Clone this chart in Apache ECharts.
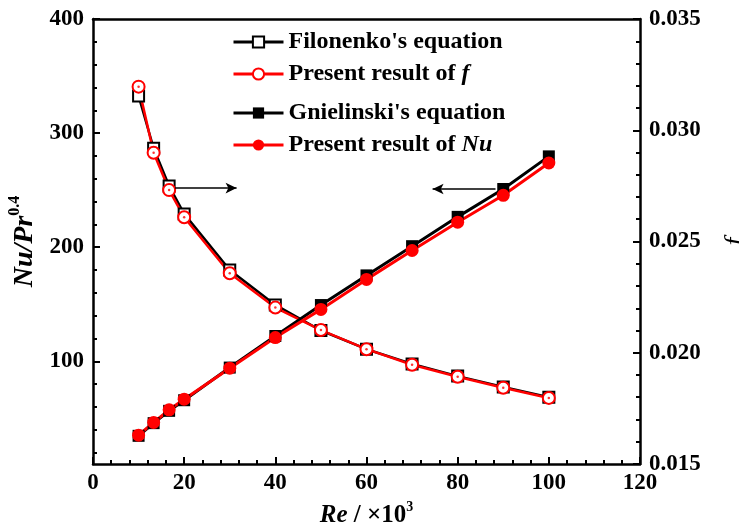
<!DOCTYPE html>
<html>
<head>
<meta charset="utf-8">
<script src="https://cdn.jsdelivr.net/npm/echarts@6/dist/echarts.min.js"></script>
<style>html,body{margin:0;padding:0;background:#fff;}#c{width:739px;height:530px;}</style>
</head>
<body>
<div id="c"></div>
<script>
const re = [10, 13.3, 16.7, 20, 30, 40, 50, 60, 70, 80, 90, 100];
const fFilonenko = [0.03154, 0.02919, 0.02749, 0.02624, 0.02372, 0.02215, 0.02100, 0.02016, 0.01950, 0.01895, 0.01846, 0.01800];
const fPresent = [0.03196, 0.02899, 0.02731, 0.02609, 0.02357, 0.02203, 0.02102, 0.02016, 0.01946, 0.01892, 0.01843, 0.01797];
const nuGnielinski = [34.7, 45.8, 56.6, 65.9, 94.5, 122.2, 149.3, 175.3, 200.9, 226.6, 251, 279.6];
const nuPresent = [35.3, 46.4, 57.5, 66.8, 94, 120.8, 145.5, 171.8, 197.1, 221.9, 245.5, 273.8];
const leftTicks = [100, 200, 300, 400];
const leftMinorTicks = [20, 40, 60, 80, 120, 140, 160, 180, 220, 240, 260, 280, 320, 340, 360, 380];
const seriesNames = ["Filonenko's equation", "Present result of f", "Gnielinski's equation", "Present result of Nu"];

const FONT = 'Liberation Serif';
const pair = (xs, ys) => xs.map((x, i) => [x, ys[i]]);
const labelStyle = { color: '#000', fontFamily: FONT, fontWeight: 'bold', fontSize: 23 };

const chart = echarts.init(document.getElementById('c'), null, { renderer: 'canvas' });
const legendRich = {
  n: { fontFamily: FONT, fontWeight: 'bold', fontSize: 24, color: '#000' },
  i: { fontFamily: FONT, fontWeight: 'bold', fontStyle: 'italic', fontSize: 24, color: '#000' }
};
const legendFmt = name => {
  if (name === seriesNames[1]) return '{n|Present result of }{i|f}';
  if (name === seriesNames[3]) return '{n|Present result of }{i|Nu}';
  return '{n|' + name + '}';
};
const legendBase = {
  orient: 'vertical', left: 227, itemWidth: 50, itemHeight: 14, itemGap: 8,
  textStyle: { fontFamily: FONT, fontWeight: 'bold', fontSize: 24, color: '#000', lineHeight: 24, rich: legendRich },
  lineStyle: { width: 3 },
  formatter: legendFmt, selectedMode: false
};

chart.setOption({
  animation: false,
  backgroundColor: '#fff',
  grid: { left: 93, right: 99, top: 19, bottom: 66, outerBoundsMode: 'none', containLabel: false },
  legend: [
    Object.assign({}, legendBase, { top: 25, data: [seriesNames[0], seriesNames[1]] }),
    Object.assign({}, legendBase, { top: 96, data: [seriesNames[2], seriesNames[3]] })
  ],
  xAxis: [{
    type: 'value', min: 0, max: 120, interval: 20, position: 'bottom',
    axisLine: { onZero: false, lineStyle: { color: '#000', width: 2.5 } },
    axisTick: { inside: true, length: 7, lineStyle: { color: '#000', width: 2 } },
    minorTick: { show: true, splitNumber: 5, length: 4, lineStyle: { color: '#000', width: 2 } },
    axisLabel: Object.assign({ margin: 8 }, labelStyle),
    splitLine: { show: false },
    name: '{i|Re}{n| / ×10}{s|3}', nameLocation: 'middle', nameGap: 36,
    nameTextStyle: { rich: {
      i: { fontFamily: FONT, fontWeight: 'bold', fontStyle: 'italic', fontSize: 25, color: '#000', verticalAlign: 'bottom', lineHeight: 28 },
      n: { fontFamily: FONT, fontWeight: 'bold', fontSize: 25, color: '#000', verticalAlign: 'bottom', lineHeight: 28 },
      s: { fontFamily: FONT, fontWeight: 'bold', fontSize: 14, color: '#000', verticalAlign: 'top', lineHeight: 28 }
    } }
  }, {
    type: 'value', min: 0, max: 120, position: 'top',
    axisLine: { show: true, onZero: false, lineStyle: { color: '#000', width: 2.5 } },
    axisTick: { show: false }, axisLabel: { show: false }, splitLine: { show: false }
  }],
  yAxis: [{
    type: 'value', min: 10, max: 400, position: 'left',
    axisLine: { show: true, onZero: false, lineStyle: { color: '#000', width: 2.5 } },
    axisTick: { show: true, inside: true, length: 7, customValues: leftTicks, lineStyle: { color: '#000', width: 2 } },
    axisLabel: Object.assign({ margin: 9, customValues: leftTicks }, labelStyle),
    splitLine: { show: false },
    name: '{i|Nu/Pr}{s|0.4}', nameLocation: 'middle', nameRotate: 90, nameGap: 46,
    nameTextStyle: { rich: {
      i: { fontFamily: FONT, fontWeight: 'bold', fontStyle: 'italic', fontSize: 28, color: '#000', verticalAlign: 'bottom', lineHeight: 32 },
      s: { fontFamily: FONT, fontWeight: 'bold', fontSize: 16, color: '#000', verticalAlign: 'top', lineHeight: 32 }
    } }
  }, {
    type: 'value', min: 0.015, max: 0.035, interval: 0.005, position: 'right',
    axisLine: { show: true, onZero: false, lineStyle: { color: '#000', width: 2.5 } },
    axisTick: { show: true, inside: true, length: 7, lineStyle: { color: '#000', width: 2 } },
    minorTick: { show: true, splitNumber: 5, length: 4, lineStyle: { color: '#000', width: 2 } },
    axisLabel: Object.assign({ margin: 9, formatter: v => v.toFixed(3) }, labelStyle),
    splitLine: { show: false },
    name: 'f', nameLocation: 'middle', nameRotate: 90, nameGap: 82,
    nameTextStyle: { fontFamily: FONT, fontStyle: 'italic', fontSize: 28, color: '#000' }
  }, {
    type: 'value', min: 10, max: 400, position: 'left',
    axisLine: { show: false, onZero: false },
    axisTick: { show: true, inside: true, length: 4, customValues: leftMinorTicks, lineStyle: { color: '#000', width: 2 } },
    axisLabel: { show: false }, splitLine: { show: false }
  }],
  series: [{
    name: seriesNames[0], type: 'line', xAxisIndex: 0, yAxisIndex: 1,
    data: pair(re, fFilonenko), symbol: 'emptyRect', symbolSize: 11,
    lineStyle: { color: '#000', width: 2.5 }, itemStyle: { color: '#000', borderWidth: 1.5 },
    markLine: { silent: true, symbol: ['none', 'arrow'], symbolSize: [8, 11], label: { show: false },
      lineStyle: { color: '#000', width: 1.5, type: 'solid' },
      data: [[{ coord: [18, 0.0274] }, { coord: [31.5, 0.0274] }]] }
  }, {
    name: seriesNames[1], type: 'line', xAxisIndex: 0, yAxisIndex: 1,
    data: pair(re, fPresent), symbol: 'emptyCircle', symbolSize: 12,
    lineStyle: { color: '#f00', width: 2.5 }, itemStyle: { color: '#f00', borderWidth: 2 }
  }, {
    name: seriesNames[2], type: 'line', xAxisIndex: 0, yAxisIndex: 0,
    data: pair(re, nuGnielinski), symbol: 'rect', symbolSize: 12,
    lineStyle: { color: '#000', width: 3 }, itemStyle: { color: '#000' },
    markLine: { silent: true, symbol: ['none', 'arrow'], symbolSize: [8, 11], label: { show: false },
      lineStyle: { color: '#000', width: 1.5, type: 'solid' },
      data: [[{ coord: [88.3, 251] }, { coord: [74.5, 251] }]] }
  }, {
    name: seriesNames[3], type: 'line', xAxisIndex: 0, yAxisIndex: 0,
    data: pair(re, nuPresent), symbol: 'circle', symbolSize: 13,
    lineStyle: { color: '#f00', width: 3 }, itemStyle: { color: '#f00' }
  }, {
    name: 'dotF', type: 'scatter', xAxisIndex: 0, yAxisIndex: 1, silent: true, z: 5,
    data: pair(re, fPresent), symbol: 'circle', symbolSize: 2.5, itemStyle: { color: '#f00' }
  }]
});
</script>
</body>
</html>
